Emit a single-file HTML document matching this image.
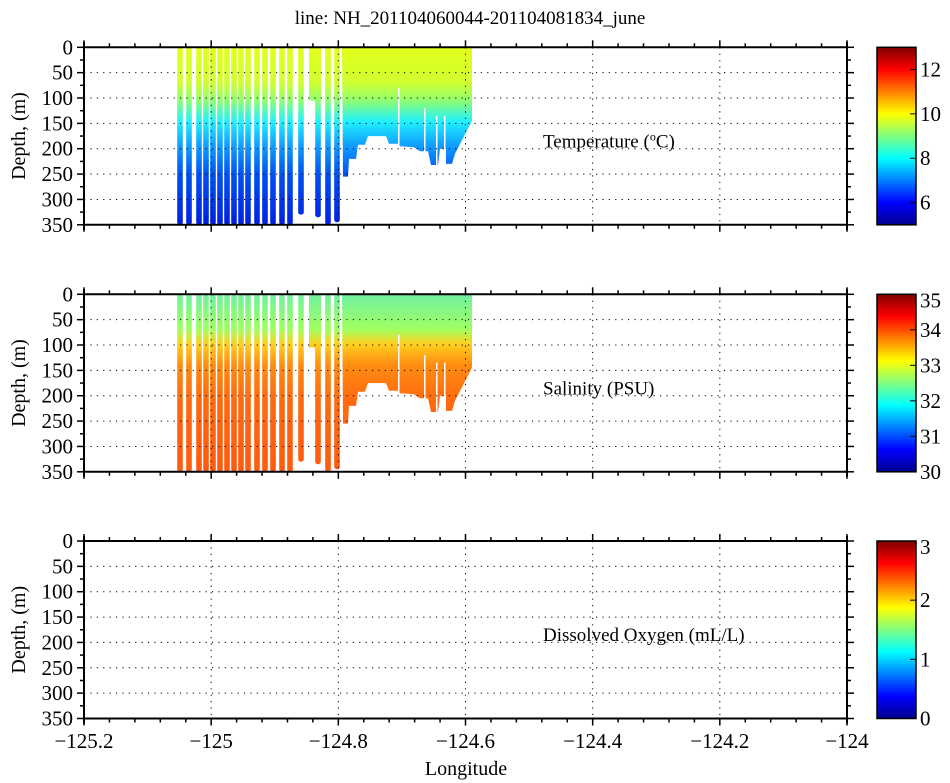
<!DOCTYPE html>
<html><head><meta charset="utf-8"><style>
html,body{margin:0;padding:0;background:#fff}
svg{display:block;font-family:"Liberation Serif",serif}
</style></head><body>
<svg id="s" width="950" height="783" viewBox="0 0 950 783" xmlns="http://www.w3.org/2000/svg">
<defs>
<linearGradient id="jet" x1="0" y1="1" x2="0" y2="0">
<stop offset="0" stop-color="#00008f"/><stop offset="0.125" stop-color="#0000ff"/>
<stop offset="0.375" stop-color="#00ffff"/><stop offset="0.625" stop-color="#ffff00"/>
<stop offset="0.875" stop-color="#ff0000"/><stop offset="1" stop-color="#800000"/>
</linearGradient>
<linearGradient id="gT" gradientUnits="userSpaceOnUse" x1="0" y1="47" x2="0" y2="225">
<stop offset="0" stop-color="#e4ff1c"/><stop offset="0.2" stop-color="#d0ff30"/>
<stop offset="0.3" stop-color="#90ff70"/><stop offset="0.42" stop-color="#20f0ff"/>
<stop offset="0.55" stop-color="#10a0ff"/><stop offset="0.72" stop-color="#0050f0"/>
<stop offset="1" stop-color="#0020e0"/>
</linearGradient>
<linearGradient id="gS" gradientUnits="userSpaceOnUse" x1="0" y1="294" x2="0" y2="472">
<stop offset="0" stop-color="#70f0a0"/><stop offset="0.2" stop-color="#a0ff60"/>
<stop offset="0.28" stop-color="#ffd020"/><stop offset="0.4" stop-color="#ff8c10"/>
<stop offset="0.6" stop-color="#ff6a10"/><stop offset="1" stop-color="#ff5a10"/>
</linearGradient>
</defs>
<text x="470" y="24" font-size="19" text-anchor="middle">line: NH_201104060044-201104081834_june</text>
<g id="g"></g>
</svg>
<script>
const g=document.getElementById('g');let h='';
const X=v=>84+(v+125.2)/1.2*763;
const tops=[47.3,294.3,541];const H=177.5;
const casts=[[180,350],[189,350],[199,350],[206,350],[213,350],[220,350],[227,350],[234,350],[241,350],[248,350],[257,350],[265,350],[273,350],[282,350],[290,350],[301,330],[318,335],[328,350],[337,345]];
const cbl=[[5,13,[6,8,10,12]],[30,35,[30,31,32,33,34,35]],[0,3,[0,1,2,3]]];
const labels=['Temperature (<tspan baseline-shift="super" font-size="12">o</tspan>C)','Salinity (PSU)','Dissolved Oxygen (mL/L)'];
for(let p=0;p<3;p++){
 const t=tops[p],b=t+H,Y=d=>t+d/350*H;
 if(p<2){const f=p==0?'url(#gT)':'url(#gS)';
  for(const [x,d] of casts){h+=`<rect x="${x-2.8}" y="${t}" width="5.6" height="${Y(d)-t}" rx="2.5" fill="${f}"/>`;}
  h+=`<rect x="309" y="${t}" width="12" height="${Y(105)-t}" fill="${f}"/>`;
  const pts=[[342,0],[343,255],[348,255],[349,220],[356,220],[358,192],[365,192],[368,175],[386,175],[389,190],[398,190],[400,195],[414,197],[420,205],[428,205],[431,232],[438,232],[440,200],[446,200],[446,230],[452,230],[455,210],[472,145],[472,0]];
  h+=`<polygon points="${pts.map(q=>q[0]+','+Y(q[1]).toFixed(1)).join(' ')}" fill="${f}"/>`;
  for(const [x,d] of [[398,80],[424,120],[436,135],[444,135]]) h+=`<rect x="${x}" y="${Y(d)}" width="1.5" height="${Y(240)-Y(d)}" fill="#fff"/>`;
 }
 for(let d=50;d<350;d+=50)h+=`<line x1="84" x2="847" y1="${Y(d)}" y2="${Y(d)}" stroke="#000" stroke-width="1" stroke-dasharray="1.2,5.2"/>`;
 for(let i=1;i<6;i++){const x=X(-125.2+i*0.2);h+=`<line x1="${x}" x2="${x}" y1="${t}" y2="${b}" stroke="#000" stroke-dasharray="1.2,5.2"/>`;}
 h+=`<line x1="84" x2="847" y1="${t}" y2="${t}" stroke="#000" stroke-width="2"/><line x1="84" x2="847" y1="${b}" y2="${b}" stroke="#000" stroke-width="2"/>`;
 h+=`<line x1="84" x2="84" y1="${t-5}" y2="${b+5}" stroke="#000" stroke-width="2"/><line x1="847" x2="847" y1="${t-5}" y2="${b+5}" stroke="#000" stroke-width="2"/>`;
 for(let i=0;i<=30;i++){const x=X(-125.2+i*0.04),L=i%5==0?7:4;
  h+=`<line x1="${x}" x2="${x}" y1="${t}" y2="${t-L}" stroke="#000" stroke-width="1.5"/><line x1="${x}" x2="${x}" y1="${b}" y2="${b+L}" stroke="#000" stroke-width="1.5"/>`;}
 for(let d=0;d<=350;d+=25){const y=Y(d),L=d%50==0?7:4;
  h+=`<line x1="84" x2="${84-L}" y1="${y}" y2="${y}" stroke="#000" stroke-width="1.5"/><line x1="847" x2="${847+L}" y1="${y}" y2="${y}" stroke="#000" stroke-width="1.5"/>`;
  if(d%50==0)h+=`<text x="73" y="${y+7}" font-size="21" text-anchor="end">${d}</text>`;}
 h+=`<text transform="translate(25,${t+H/2}) rotate(-90)" font-size="20" text-anchor="middle">Depth, (m)</text>`;
 h+=`<text x="543" y="${t+100}" font-size="19">${labels[p]}</text>`;
 const [lo,hi,tk]=cbl[p];
 h+=`<rect x="877" y="${t}" width="39" height="${H}" fill="url(#jet)" stroke="#000" stroke-width="1.5"/>`;
 for(const v of tk){const y=t+H-(v-lo)/(hi-lo)*H;
  h+=`<line x1="916" x2="910" y1="${y}" y2="${y}" stroke="#000"/><text x="920" y="${Math.min(Math.max(y+7,t+13),b+7)}" font-size="21">${v}</text>`;}
}
const xl=['\u2212125.2','\u2212125','\u2212124.8','\u2212124.6','\u2212124.4','\u2212124.2','\u2212124'];
xl.forEach((s,i)=>{h+=`<text x="${X(-125.2+i*0.2)}" y="748" font-size="21" text-anchor="middle">${s}</text>`;});
h+=`<text x="466" y="775" font-size="20" text-anchor="middle">Longitude</text>`;
g.innerHTML=h;
</script>
</body></html>
